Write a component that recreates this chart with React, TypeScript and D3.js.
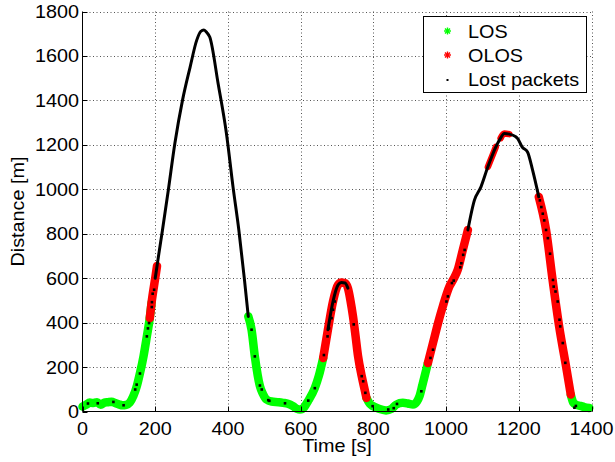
import React from "react";
import * as d3 from "d3";

// Trajectory: time [s] and distance [m]
const timeS = [
  0, 10, 20, 30, 40, 50, 60, 70, 80, 90, 100, 110, 120, 130, 140, 150, 158, 168, 177, 185, 190, 200,
  205, 210, 220, 236, 254, 275, 296, 314, 325, 334, 342, 350, 373, 396, 414, 430, 445, 456, 465, 474, 488,
  496, 506, 520, 540, 552, 565, 579, 590, 598, 610, 620, 639, 650, 662, 675, 689, 703, 712, 722, 730,
  737, 744, 751, 758, 768, 776, 781, 790, 799, 815, 835, 850, 863, 881, 895, 909, 920, 927, 935, 950,
  964, 980, 991, 1009, 1020, 1032, 1046, 1060, 1078, 1096, 1115, 1137, 1150, 1160, 1174, 1190, 1197,
  1209, 1224, 1238, 1255, 1275, 1293, 1311, 1330, 1343, 1350, 1357, 1370, 1380, 1394,
];
const distanceM = [
  22, 30, 40, 38, 42, 30, 40, 42, 44, 38, 32, 28, 30, 40, 70, 118, 172, 250, 338, 420, 490, 600,
  655, 710, 817, 996, 1206, 1400, 1550, 1670, 1710, 1717, 1705, 1685, 1476, 1250, 1011, 817, 600, 428, 368, 248, 114,
  80, 54, 45, 42, 39, 35, 24, 12, 9, 20, 46, 106, 160, 241, 368, 495, 570, 580, 578, 555,
  500, 428, 340, 248, 159, 99, 61, 35, 24, 12, 5, 12, 31, 39, 36, 31, 45, 69, 120, 218,
  308, 410, 473, 562, 595, 637, 727, 817, 951, 1011, 1101, 1191, 1230, 1251, 1248, 1238, 1228,
  1191, 1168, 1086, 966, 817, 592, 383, 203, 76, 40, 31, 25, 20, 16,
];

// Time spans with received packets, per link state
const losSpans: [number, number][] = [[0, 190], [456, 662], [781, 950], [1343, 1394]];
const olosSpans: [number, number][] = [[185, 205], [662, 781], [950, 1060], [1255, 1343]];
// Short OLOS bursts near the far peak
const olosBursts: [number, number][] = [[1115, 1137], [1150, 1174]];
// Time spans where every packet was lost
const lostSpans: [number, number][] = [[200, 456], [675, 730], [1060, 1255]];

// Isolated lost packets
const lostT = [
  15, 42, 85, 113, 145, 149, 158, 177, 180, 183, 190.6, 191, 193, 197,
  465, 474, 488, 493, 511, 514, 557,
  621, 639, 664, 674, 678, 685, 689, 694, 746, 768, 772, 778, 798, 841, 856, 865,
  932, 957, 964, 1001, 1005, 1016, 1021, 1039, 1042, 1047, 1051,
  1258, 1262, 1266, 1270, 1275, 1280, 1286, 1294, 1296, 1301, 1307, 1312, 1314, 1321, 1328, 1353, 1357,
];
const lostD = [
  36, 37, 43, 28, 99, 121, 171, 338, 374, 398, 470, 492, 530, 548,
  368, 248, 117, 99, 51, 48, 37,
  49, 105, 254, 338, 374, 420, 458, 495, 392, 159, 136, 84, 24, 9, 15, 34,
  91, 241, 278, 495, 518, 578, 589, 649, 667, 705, 727,
  950, 920, 890, 860, 817, 780, 710, 592, 562, 540, 495, 413, 383, 308, 219, 17, 25,
];

const xTicks = [0, 200, 400, 600, 800, 1000, 1200, 1400];
const yTicks = [0, 200, 400, 600, 800, 1000, 1200, 1400, 1600, 1800];
const legendLabels = ["LOS", "OLOS", "Lost packets"];

const FONT = "'Liberation Sans', Arial, Helvetica, sans-serif";
const GREEN = "#00ff00";
const RED = "#ff0000";

function Txt({ x, y, anchor, children, rotate = 0 }: any) {
  return (
    <text
      transform={`translate(${x},${y}) rotate(${rotate}) scale(1.1,1)`}
      textAnchor={anchor}
      fontFamily={FONT}
      fontSize={18}
      fill="#000"
    >
      {children}
    </text>
  );
}

function Asterisk({ cx, cy, r, color }: any) {
  const k = r * 0.707;
  return (
    <g stroke={color} strokeWidth={1.4}>
      <line x1={cx - r} y1={cy} x2={cx + r} y2={cy} />
      <line x1={cx} y1={cy - r} x2={cx} y2={cy + r} />
      <line x1={cx - k} y1={cy - k} x2={cx + k} y2={cy + k} />
      <line x1={cx - k} y1={cy + k} x2={cx + k} y2={cy - k} />
    </g>
  );
}

export default function App() {
  const x = d3.scaleLinear().domain([0, 1400]).range([82.5, 591.5]);
  const y = d3.scaleLinear().domain([0, 1800]).range([411.5, 11.5]);
  const pts = timeS.map((t, i) => [t, distanceM[i]] as [number, number]);
  const line = d3
    .line<[number, number]>()
    .x((d) => x(d[0]))
    .y((d) => y(d[1]))
    .curve(d3.curveMonotoneX);
  const seg = ([a, b]: [number, number]) => line(pts.filter((p) => p[0] >= a && p[0] <= b)) || "";
  const [x0, x1] = x.range();
  const [y0, y1] = y.range();

  return (
    <svg width={615} height={462} style={{ position: "absolute", left: 0, top: 0, background: "#fff" }}>
      <rect x={0} y={0} width={615} height={462} fill="#fff" />

      {/* grid, including the dotted top and right edges */}
      <g stroke="#555" strokeWidth={1} strokeDasharray="1,2.5">
        {xTicks.slice(1).map((t) => (
          <line key={t} x1={Math.round(x(t)) + 0.5} x2={Math.round(x(t)) + 0.5} y1={y0} y2={y1} />
        ))}
        {yTicks.slice(1).map((t) => (
          <line key={t} x1={x0} x2={x1} y1={Math.round(y(t)) + 0.5} y2={Math.round(y(t)) + 0.5} />
        ))}
      </g>

      {/* received packets */}
      <g fill="none" strokeLinecap="round" strokeLinejoin="round">
        {losSpans.map((s, i) => (
          <path key={"l" + i} d={seg(s)} stroke={GREEN} strokeWidth={8.5} />
        ))}
        {olosSpans.map((s, i) => (
          <path key={"o" + i} d={seg(s)} stroke={RED} strokeWidth={8.5} />
        ))}
        {olosBursts.map((s, i) => (
          <path key={"b" + i} d={seg(s)} stroke={RED} strokeWidth={6.5} />
        ))}
      </g>
      {/* dense lost packets */}
      <g fill="none" stroke="#000" strokeWidth={3} strokeLinejoin="round" strokeLinecap="round">
        {lostSpans.map((s, i) => (
          <path key={i} d={seg(s)} />
        ))}
      </g>
      {lostT.map((t, i) => (
        <rect key={i} x={x(t) - 1.3} y={y(lostD[i]) - 1.3} width={2.6} height={2.6} fill="#000" />
      ))}

      {/* axes */}
      <g stroke="#000" strokeWidth={1}>
        <line x1={x0} x2={x1} y1={y0} y2={y0} />
        <line x1={x0} x2={x0} y1={y0} y2={y1} />
        {xTicks.map((t) => (
          <line key={t} x1={Math.round(x(t)) + 0.5} x2={Math.round(x(t)) + 0.5} y1={y0} y2={y0 - 5} />
        ))}
        {yTicks.map((t) => (
          <line key={t} x1={x0} x2={x0 + 5} y1={Math.round(y(t)) + 0.5} y2={Math.round(y(t)) + 0.5} />
        ))}
      </g>

      {/* tick labels */}
      {xTicks.map((t) => (
        <Txt key={t} x={x(t)} y={435} anchor="middle">{t}</Txt>
      ))}
      {yTicks.map((t) => (
        <Txt key={t} x={79} y={y(t) + 6.5} anchor="end">{t}</Txt>
      ))}

      {/* axis titles */}
      <Txt x={(x0 + x1) / 2} y={452} anchor="middle">Time [s]</Txt>
      <Txt x={24} y={(y0 + y1) / 2} anchor="middle" rotate={-90}>Distance [m]</Txt>

      {/* legend */}
      <rect x={423.5} y={16.5} width={163} height={76} fill="#fff" stroke="#000" strokeWidth={1} />
      <Asterisk cx={447.5} cy={31} r={3.5} color={GREEN} />
      <Asterisk cx={447.5} cy={55} r={3.5} color={RED} />
      <rect x={446.5} y={79} width={2} height={2} fill="#000" />
      {legendLabels.map((l, i) => (
        <Txt key={l} x={468} y={37.5 + i * 24.3} anchor="start">{l}</Txt>
      ))}
    </svg>
  );
}
